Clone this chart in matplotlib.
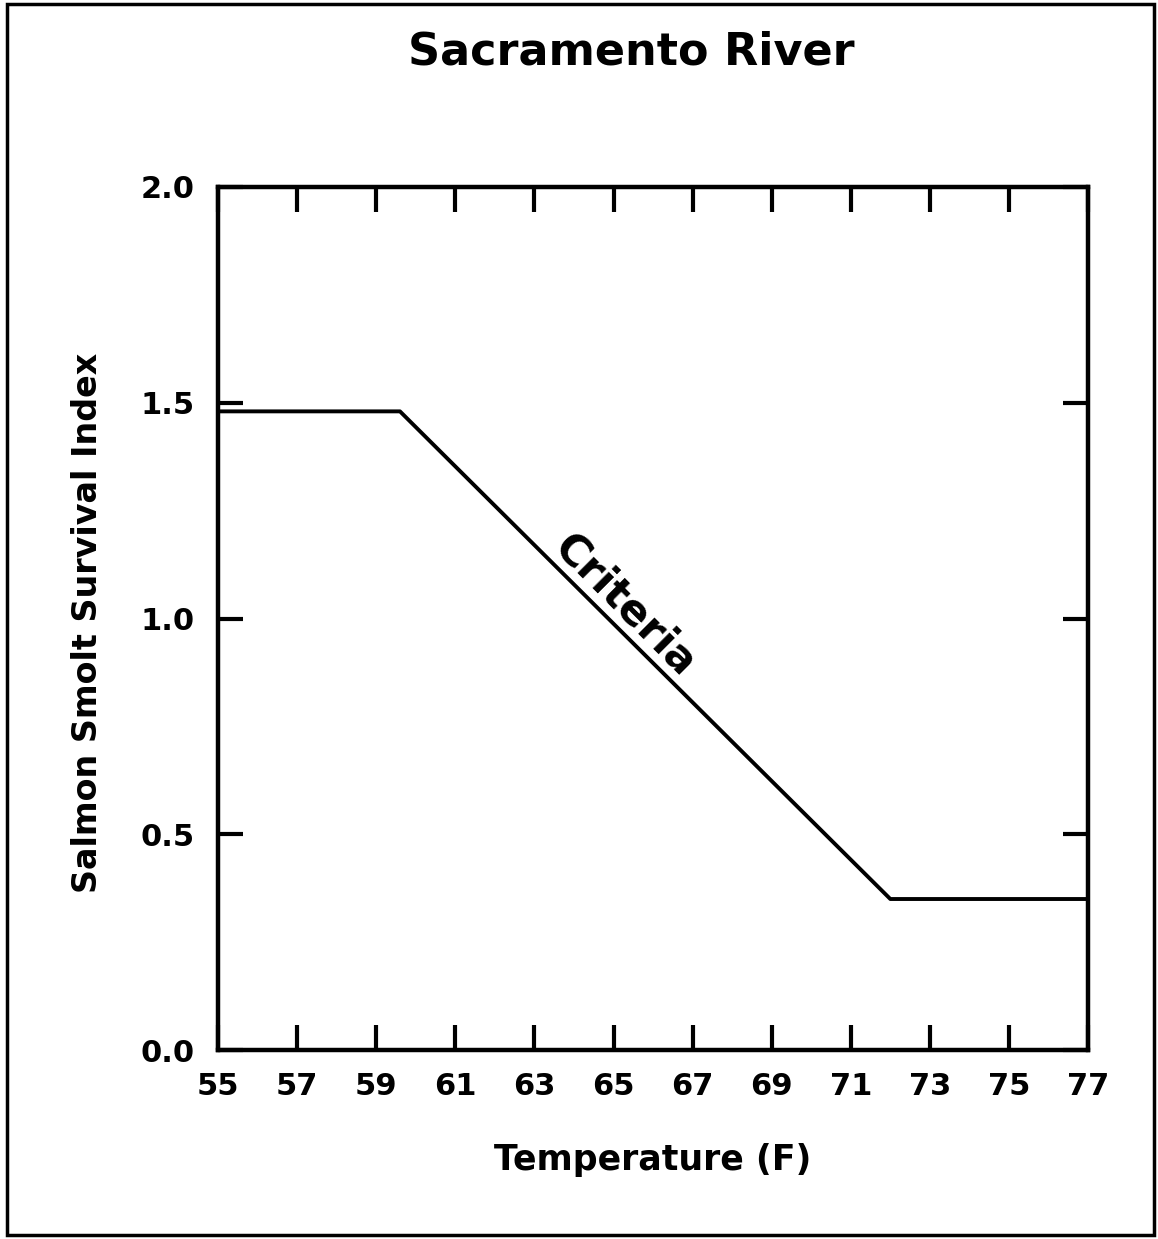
import matplotlib.pyplot as plt
from matplotlib.patches import Rectangle

# criteria curve
temps = [55, 59.6, 72.0, 77]
survival = [1.48, 1.48, 0.35, 0.35]

x_ticks = list(range(55, 78, 2))
y_ticks = [0.0, 0.5, 1.0, 1.5, 2.0]

plt.rcParams['font.family'] = ['DejaVu Sans']
plt.rcParams['font.weight'] = 'bold'

fig = plt.figure(figsize=(11.58, 12.39), dpi=100)
ax = fig.add_axes([0.1883, 0.1525, 0.7513, 0.6966])

ax.plot(temps, survival, color='black', lw=2.8)
ax.set_xlim(55, 77)
ax.set_ylim(0, 2.0)
ax.set_xticks(x_ticks)
ax.set_yticks(y_ticks)
ax.set_yticklabels([f"{v:.1f}" for v in y_ticks])
ax.tick_params(direction='in', length=18, width=3, top=True, right=True,
               labelsize=22)
ax.tick_params(axis='y', pad=17)
ax.tick_params(axis='x', pad=16)
for s in ax.spines.values():
    s.set_linewidth(3.2)

ax.set_xlabel('Temperature (F)', fontsize=25, fontweight='bold')
ax.set_ylabel('Salmon Smolt Survival Index', fontsize=24, fontweight='bold')
ax.xaxis.set_label_coords(0.5, -0.127)
ax.xaxis.label.set_va('center')
ax.yaxis.set_label_coords(-0.150, 0.495)
ax.yaxis.label.set_va('center')
ax.text(65.3, 1.03, 'Criteria', rotation=-45, fontsize=31, fontweight='bold',
        ha='center', va='center')

fig.text(0.545, 0.958, 'Sacramento River', ha='center', va='center',
         fontsize=32, fontweight='bold')

fig.patches.append(Rectangle((7 / 1158, 4 / 1239), 1147 / 1158, 1231 / 1239,
                             transform=fig.transFigure, fill=False,
                             edgecolor='black', lw=2.5))

fig.savefig('out.png', dpi=100)
